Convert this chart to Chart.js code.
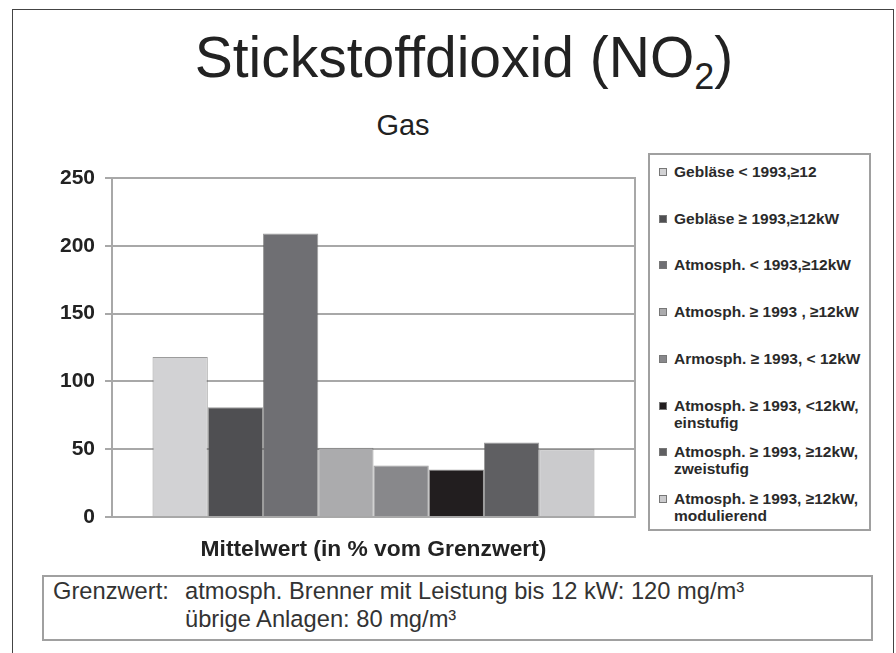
<!DOCTYPE html>
<html lang="de">
<head>
<meta charset="utf-8">
<title>Stickstoffdioxid (NO2) - Gas</title>
<script src="https://cdn.jsdelivr.net/npm/chart.js@4.4.1/dist/chart.umd.min.js"></script>
<style>
  body { margin: 0; background: #fff; font-family: "Liberation Sans", Arial, sans-serif; }
  #page { position: relative; width: 896px; height: 653px; overflow: hidden; background: #fff; }
  #frame { position: absolute; left: 12px; top: 9px; width: 880px; height: 700px; border: 1px solid #444; }
  #title { position: absolute; left: 0; top: 22px; width: 928px; text-align: center; font-size: 57px; color: #222; line-height: 70px; }
  #title sub { font-size: 36px; vertical-align: -12px; line-height: 0; }
  #subtitle { position: absolute; left: 303px; top: 108px; width: 200px; text-align: center; font-size: 29px; color: #222; line-height: 34px; }
  #chartWrap { position: absolute; left: 0; top: 150px; width: 640px; height: 420px; }
  #legend { position: absolute; left: 648px; top: 153px; width: 219px; height: 374px; border: 2px solid #a0a0a0; }
  .item { position: absolute; left: 7px; font-weight: bold; font-size: 15.5px; line-height: 17px; color: #2a2a2a; white-space: nowrap; }
  .box { position: absolute; left: 2px; top: 5px; width: 6px; height: 6px; border: 1px solid #777; }
  .txt { margin-left: 17px; }
  #note { position: absolute; left: 42px; top: 575px; width: 827px; height: 62px; border: 2px solid #a0a0a0; font-size: 23.7px; color: #333; }
  .nl { position: absolute; white-space: nowrap; line-height: 27px; }
</style>
</head>
<body>
<div id="page">
  <div id="frame"></div>
  <div id="title">Stickstoffdioxid (NO<sub>2</sub>)</div>
  <div id="subtitle">Gas</div>
  <div id="chartWrap"><canvas id="chart" width="640" height="420"></canvas></div>
  <div id="legend"></div>
  <div id="note">
    <div class="nl" style="left:9px;top:1px">Grenzwert:</div>
    <div class="nl" style="left:141px;top:1px">atmosph. Brenner mit Leistung bis 12 kW: 120 mg/m³</div>
    <div class="nl" style="left:141px;top:29px">übrige Anlagen: 80 mg/m³</div>
  </div>
</div>
<script>
// Daten
const kategorien = ["Mittelwert (in % vom Grenzwert)"];

const serienNamen = [
  ["Gebläse < 1993,≥12"],
  ["Gebläse ≥ 1993,≥12kW"],
  ["Atmosph. < 1993,≥12kW"],
  ["Atmosph. ≥ 1993 , ≥12kW"],
  ["Armosph. ≥ 1993, < 12kW"],
  ["Atmosph. ≥ 1993, <12kW,", "einstufig"],
  ["Atmosph. ≥ 1993, ≥12kW,", "zweistufig"],
  ["Atmosph. ≥ 1993, ≥12kW,", "modulierend"]
];

const mittelwerte = [118, 81, 209, 51, 38, 35, 55, 50];

const yTicks = [0, 50, 100, 150, 200, 250];

const farben = ["#d2d2d4", "#4f4f52", "#6f6f73", "#ababad", "#88888b", "#221e1f", "#5f5f62", "#cbcbcd"];

const gridFarbe = "#a8a8a8";

const plotRahmen = {
  id: "plotRahmen",
  beforeDatasetsDraw(chart) {
    const { ctx, chartArea: a } = chart;
    ctx.save();
    ctx.strokeStyle = gridFarbe;
    ctx.lineWidth = 2;
    ctx.strokeRect(a.left, a.top, a.right - a.left, a.bottom - a.top);
    ctx.restore();
  }
};

const datasets = mittelwerte.map((v, i) => ({
  label: serienNamen[i].join(" "),
  data: [v],
  backgroundColor: farben[i],
  borderColor: "rgba(90,90,90,0.6)",
  borderWidth: 1
}));

const chart = new Chart(document.getElementById("chart"), {
  type: "bar",
  data: { labels: kategorien, datasets },
  options: {
    responsive: false,
    animation: false,
    categoryPercentage: 0.845,
    barPercentage: 1,
    layout: { padding: { left: 50, right: 5, top: 28, bottom: 0 } },
    plugins: {
      legend: { display: false },
      tooltip: { enabled: false }
    },
    scales: {
      x: {
        grid: { display: false, drawTicks: false },
        border: { color: gridFarbe, width: 2 },
        ticks: {
          padding: 19,
          color: "#222",
          font: { family: "'Liberation Sans', Arial, sans-serif", size: 22.8, weight: "bold" }
        },
        afterFit(scale) { scale.height = 53; }
      },
      y: {
        min: 0,
        max: 250,
        afterBuildTicks(scale) { scale.ticks = yTicks.map(v => ({ value: v })); },
        grid: { color: gridFarbe, lineWidth: 2, tickLength: 7 },
        border: { color: gridFarbe, width: 2 },
        ticks: {
          padding: 10,
          color: "#222",
          font: { family: "'Liberation Sans', Arial, sans-serif", size: 21, weight: "bold" }
        },
        afterFit(scale) { scale.width = 62; }
      }
    }
  },
  plugins: [plotRahmen]
});

// Legende aus den Datensätzen erzeugen
const legend = document.getElementById("legend");
const abstand = 46.7;
chart.data.datasets.forEach((ds, i) => {
  const item = document.createElement("div");
  item.className = "item";
  item.style.top = (8 + i * abstand) + "px";
  const box = document.createElement("span");
  box.className = "box";
  box.style.background = ds.backgroundColor;
  item.appendChild(box);
  const txt = document.createElement("div");
  txt.className = "txt";
  txt.innerHTML = serienNamen[i].join("<br>");
  item.appendChild(txt);
  legend.appendChild(item);
});
</script>
</body>
</html>
